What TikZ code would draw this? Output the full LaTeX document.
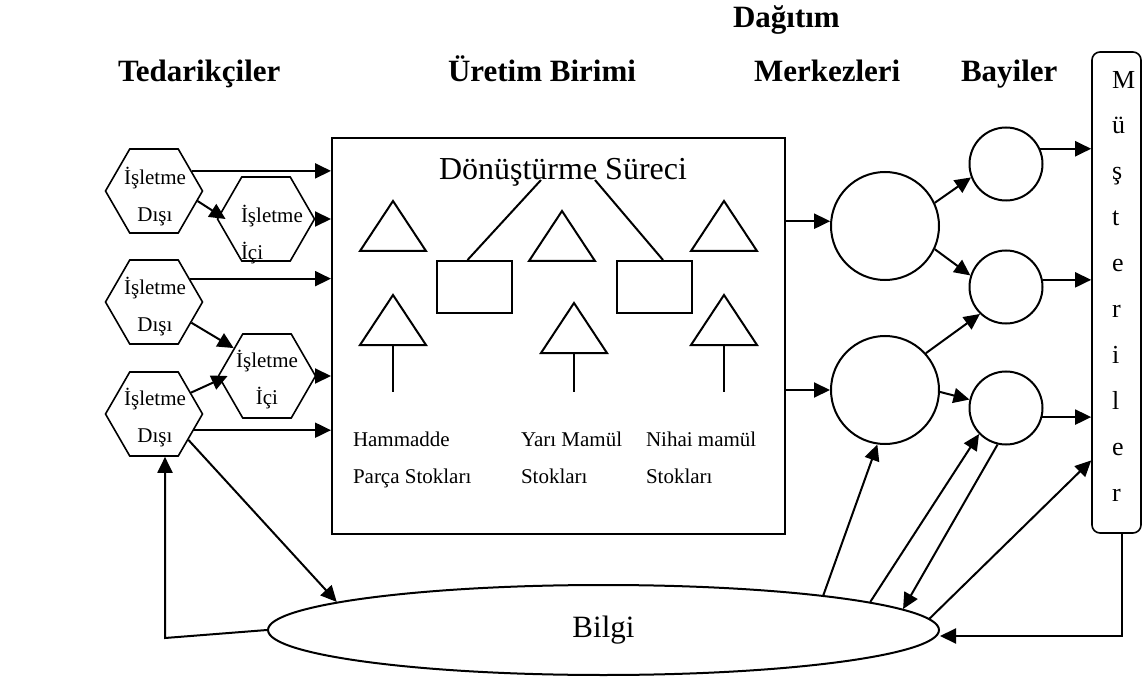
\documentclass[tikz,border=0pt]{standalone}
\usepackage{fontspec}
\setmainfont{Liberation Serif}
\usetikzlibrary{positioning}
\usetikzlibrary{calc}
\usetikzlibrary{shapes.geometric,arrows.meta}

\begin{document}
\begin{tikzpicture}[
    x=1pt, y=-1pt,
    line width=2pt,
    flow/.style={-{Triangle[length=16pt,width=15pt]}},
    hexnode/.style={regular polygon, regular polygon sides=6, draw=black, inner sep=0pt, minimum size=97pt, line width=1.6pt},
    hextext/.style={inner sep=0pt, align=center, font={\fontsize{21}{37}\selectfont}},
    stocktext/.style={inner sep=0pt, align=left, anchor=north west, font={\fontsize{21}{36.5}\selectfont}},
    header/.style={inner sep=0pt, anchor=base west, font={\fontsize{31}{37}\selectfont\bfseries}},
    dcnode/.style={circle, draw=black, inner sep=0pt, minimum size=108pt},
    dealer/.style={circle, draw=black, inner sep=0pt, minimum size=73pt},
  ]

  \useasboundingbox (0,0) rectangle (1144,679);

  \node[header] (dagitim) at (732,28) {Dağıtım};
  \node[header] (tedarik) at (117,82) {Tedarikçiler};
  \node[header] (uretim) at (447,82) {Üretim Birimi};
  \node[header] (merkez) at (753,82) {Merkezleri};
  \node[header] (bayi) at (960,82) {Bayiler};

  \node[hexnode] (d1) at (154,191) {};
  \node[hexnode] (i1) at (266,219) {};
  \node[hexnode] (d2) at (154,302) {};
  \node[hexnode] (i2) at (267,376) {};
  \node[hexnode] (d3) at (154,414) {};
  \node[hextext, anchor=north] (d1t) at (155,166) {İşletme\\Dışı};
  \node[hextext, anchor=north west, align=left] (i1t) at (240,204) {İşletme\\İçi};
  \node[hextext, anchor=north] (d2t) at (155,276) {İşletme\\Dışı};
  \node[hextext, anchor=north] (i2t) at (267,349) {İşletme\\İçi};
  \node[hextext, anchor=north] (d3t) at (155,387) {İşletme\\Dışı};

  \node[draw=black, inner sep=0pt, minimum width=453pt, minimum height=396pt] (unit) at (558.5,336) {};
  \node[inner sep=0pt, anchor=base, font={\fontsize{32}{38}\selectfont}] (title) at (563,180) {Dönüştürme Süreci};
  \node[draw=black, inner sep=0pt, minimum width=75pt, minimum height=52pt] (proc1) at (474.5,287) {};
  \node[draw=black, inner sep=0pt, minimum width=75pt, minimum height=52pt] (proc2) at (654,287) {};
  \draw ([xshift=-7pt]proc1.north) -- ([xshift=-22pt]title.base);
  \draw ([xshift=9pt]proc2.north) -- ([xshift=32pt]title.base);

  \foreach \px/\py in {393/201, 393/295, 562/211, 574/303, 724/201, 724/295}
    \draw (\px,\py) -- ++(33,50) -- ++(-66,0) -- cycle;
  \foreach \qx/\qy in {393/345, 574/353, 724/345}
    \draw (\qx,\qy) -- (\qx,392);

  \node[stocktext] (hamm) at (352,431) {Hammadde\\Parça Stokları};
  \node[stocktext] (yari) at (520,431) {Yarı Mamül\\Stokları};
  \node[stocktext] (nihai) at (645,431) {Nihai mamül\\Stokları};

  \node[dcnode] (dc1) at (885,226) {};
  \node[dcnode] (dc2) at (885,390) {};
  \node[dealer] (b1) at (1006,164) {};
  \node[dealer] (b2) at (1006,287) {};
  \node[dealer] (b3) at (1006,408) {};

  \node[draw=black, line width=1.6pt, rounded corners=8pt, inner sep=0pt, minimum width=49pt, minimum height=481pt] (cust) at (1116.5,292.5) {};
  \node[inner sep=0pt, anchor=north west, align=left, font={\fontsize{26}{45.9}\selectfont}] (custtext) at (1111,70) {M\\ü\\ş\\t\\e\\r\\i\\l\\e\\r};

  \node[ellipse, draw=black, inner sep=0pt, minimum width=671pt, minimum height=90pt, font={\fontsize{31}{37}\selectfont}] (bilgi) at (603.5,630) {Bilgi};

  \draw[flow] (d1.28) -- (d1.28 -| unit.west);
  \draw[flow] (d1.-13) -- ([xshift=9pt]i1.west);
  \draw[flow] (i1.east) -- (i1.east -| unit.west);
  \draw[flow] (d2.33) -- (d2.33 -| unit.west);
  \draw[flow] (d2.-29) -- (i2.140);
  \draw[flow] (d3.30) -- ([xshift=10pt]i2.west);
  \draw[flow] (i2.east) -- (i2.east -| unit.west);
  \draw[flow] (d3.-22) -- (d3.-22 -| unit.west);
  \draw[flow] (d3.-37) -- (bilgi.174);
  \coordinate (back) at (165,638);
  \draw[flow] (bilgi.west) -- (back) -- (back |- d3.south);

  \draw[flow] (unit.east |- dc1.175) -- (dc1.175);
  \draw[flow] (unit.east |- dc2.west) -- (dc2.west);
  \draw[flow] (dc1.25) -- (b1.201);
  \draw[flow] (dc1.-25) -- (b2.162);
  \draw[flow] (dc2.42) -- (b2.226);
  \draw[flow] (dc2.-2) -- (b3.167);
  \draw[flow] (b1.24) -- (b1.24 -| cust.west);
  \draw[flow] (b2.11) -- (b2.11 -| cust.west);
  \draw[flow] (b3.-14) -- (b3.-14 -| cust.west);
  \draw[flow] (bilgi.9) -- (dc2.262);
  \draw[flow] (bilgi.6) -- (b3.224);
  \draw[flow] (b3.257) -- (bilgi.4);
  \draw[flow] (bilgi.2) -- ($(cust.south west)!0.152!(cust.north west)$);
  \coordinate (cdown) at ([xshift=5pt]cust.south);
  \coordinate (bin) at ([yshift=-6pt]bilgi.east);
  \draw[flow] (cdown) -- (cdown |- bin) -- (bin);

\end{tikzpicture}
\end{document}
